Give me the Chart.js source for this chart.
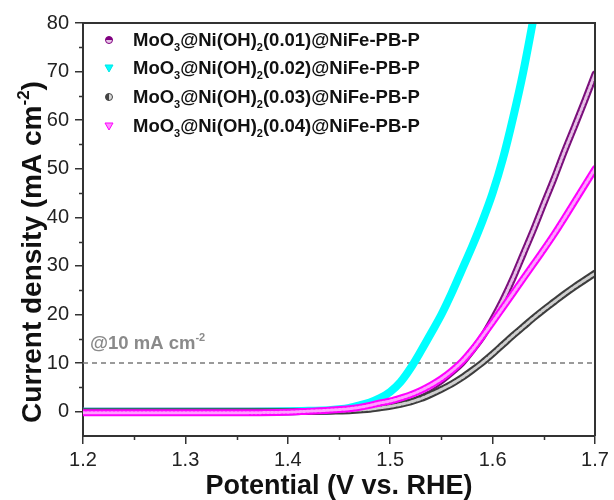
<!DOCTYPE html>
<html>
<head>
<meta charset="utf-8">
<title>LSV curves</title>
<script src="https://cdn.jsdelivr.net/npm/chart.js"></script>
<style>
  html, body { margin: 0; padding: 0; background: #fff; }
  #wrap { width: 614px; height: 500px; }
</style>
</head>
<body>
<div id="wrap"><canvas id="lsv" width="614" height="500"></canvas></div>
<script>
    // Potential (V vs. RHE) shared by all four curves
    const potential = [1.20, 1.25, 1.30, 1.35, 1.40, 1.42, 1.44,
        1.45, 1.46, 1.47, 1.48, 1.49, 1.50, 1.51, 1.52, 1.53, 1.54,
        1.55, 1.56, 1.57, 1.58, 1.59, 1.60, 1.61, 1.62, 1.63, 1.64,
        1.65, 1.66, 1.67, 1.68, 1.69, 1.70];

    // Current density (mA cm-2) for each loading
    const j001 = [0.1, 0.1, 0.1, 0.1, 0.1, 0.15, 0.2,
        0.3, 0.4, 0.6, 0.9, 1.3, 1.7, 2.3, 3.0, 3.9, 5.0,
        6.4, 8.1, 10.0, 12.6, 15.4, 19.0, 23.0, 27.5, 32.5, 37.5,
        42.8, 48.0, 53.5, 58.7, 64.0, 69.5];
    const j002 = [0.0, 0.0, 0.0, 0.0, 0.1, 0.2, 0.3,
        0.5, 0.8, 1.3, 1.9, 2.8, 4.1, 6.1, 9.0, 12.5, 16.2,
        20.0, 24.4, 29.2, 34.0, 39.2, 45.0, 52.0, 60.5, 70.0, 81.0,
        null, null, null, null, null, null];
    const j003 = [0.0, 0.0, 0.0, 0.0, 0.0, 0.05, 0.1,
        0.15, 0.2, 0.35, 0.5, 0.8, 1.1, 1.5, 2.0, 2.7, 3.6,
        4.6, 5.7, 7.0, 8.5, 10.1, 11.9, 13.8, 15.7, 17.5, 19.3,
        21.0, 22.6, 24.2, 25.7, 27.1, 28.5];
    const j004 = [-0.2, -0.2, -0.2, -0.2, -0.1, 0.1, 0.3,
        0.45, 0.6, 0.9, 1.3, 1.8, 2.2, 2.8, 3.5, 4.4, 5.5,
        6.8, 8.4, 10.3, 12.7, 15.5, 18.4, 21.4, 24.4, 27.4, 30.4,
        33.4, 36.5, 39.8, 43.2, 46.6, 50.0];

    const loadings = ['0.01', '0.02', '0.03', '0.04'];
    const refCurrent = 10;   // mA cm-2 benchmark line

    const xTicks = [1.2, 1.3, 1.4, 1.5, 1.6, 1.7];
    const yTicks = [0, 10, 20, 30, 40, 50, 60, 70, 80];

    function pts(values) {
        return potential
            .map((v, i) => ({ x: v, y: values[i] }))
            .filter(p => p.y !== null);
    }

    // one curve = a thick outer stroke plus an optional lighter dashed core
    function band(values, label, outer, inner, width, order, dash) {
        const common = {
            label: label,
            data: pts(values),
            pointRadius: 0,
            cubicInterpolationMode: 'monotone',
            borderCapStyle: 'round',
            borderJoinStyle: 'round',
            fill: false
        };
        const sets = [Object.assign({}, common, {
            borderColor: outer, borderWidth: width, order: order + 1
        })];
        if (inner) {
            sets.push(Object.assign({}, common, {
                borderColor: inner, borderWidth: width - 4, borderDash: dash, order: order
            }));
        }
        return sets;
    }

    const axisColor = '#333333';
    const fontFamily = '"Liberation Sans", Arial, sans-serif';

    // text with sub/superscripts, parts = [text, 'sub'|'sup'|null]
    function richText(ctx, parts, x, y, size, weight, color) {
        ctx.save();
        ctx.fillStyle = color;
        ctx.textBaseline = 'alphabetic';
        ctx.textAlign = 'left';
        let cx = x;
        parts.forEach(([t, kind]) => {
            const s = kind ? Math.round(size * 0.62) : size;
            ctx.font = `${weight} ${s}px ${fontFamily}`;
            const dy = kind === 'sub' ? size * 0.28 : kind === 'sup' ? -size * 0.42 : 0;
            ctx.fillText(t, cx, y + dy);
            cx += ctx.measureText(t).width;
        });
        ctx.restore();
        return cx - x;
    }

    function richWidth(ctx, parts, size, weight) {
        let w = 0;
        parts.forEach(([t, kind]) => {
            const s = kind ? Math.round(size * 0.62) : size;
            ctx.font = `${weight} ${s}px ${fontFamily}`;
            w += ctx.measureText(t).width;
        });
        return w;
    }

    function halfCircle(ctx, x, y, r, dark, light, vertical) {
        ctx.save();
        ctx.beginPath();
        ctx.arc(x, y, r, 0, Math.PI * 2);
        ctx.fillStyle = light;
        ctx.fill();
        ctx.beginPath();
        if (vertical) ctx.arc(x, y, r, Math.PI / 2, Math.PI * 1.5);
        else ctx.arc(x, y, r, Math.PI, Math.PI * 2);
        ctx.closePath();
        ctx.fillStyle = dark;
        ctx.fill();
        ctx.beginPath();
        ctx.arc(x, y, r, 0, Math.PI * 2);
        ctx.strokeStyle = dark;
        ctx.lineWidth = 1;
        ctx.stroke();
        ctx.restore();
    }

    function downTriangle(ctx, x, y, r, stroke, fillColor) {
        ctx.save();
        ctx.beginPath();
        ctx.moveTo(x - r, y - r * 0.75);
        ctx.lineTo(x + r, y - r * 0.75);
        ctx.lineTo(x, y + r);
        ctx.closePath();
        ctx.fillStyle = fillColor;
        ctx.fill();
        ctx.strokeStyle = stroke;
        ctx.lineWidth = 1;
        ctx.stroke();
        ctx.restore();
    }

    const decorations = {
        id: 'decorations',
        beforeDatasetsDraw(chart) {
            const { ctx, chartArea: a, scales: { y } } = chart;
            // dashed 10 mA cm-2 reference line
            const yy = y.getPixelForValue(refCurrent);
            ctx.save();
            ctx.strokeStyle = '#7a7a7a';
            ctx.lineWidth = 1.5;
            ctx.setLineDash([5, 4]);
            ctx.beginPath();
            ctx.moveTo(a.left, yy);
            ctx.lineTo(a.right, yy);
            ctx.stroke();
            ctx.restore();
            richText(ctx, [['@10 mA cm', null], ['-2', 'sup']], a.left + 7, yy - 14, 18.5, 'bold', '#8a8a8a');
        },
        afterDraw(chart) {
            const { ctx, chartArea: a, scales: { x, y } } = chart;
            ctx.save();
            // top and right frame
            ctx.strokeStyle = axisColor;
            ctx.lineWidth = 2;
            ctx.beginPath();
            ctx.moveTo(a.left, a.top);
            ctx.lineTo(a.right, a.top);
            ctx.lineTo(a.right, a.bottom);
            ctx.stroke();
            // minor ticks, outward
            ctx.lineWidth = 1.5;
            ctx.beginPath();
            for (let v = 5; v < 80; v += 10) {
                const py = Math.round(y.getPixelForValue(v)) + 0.5;
                ctx.moveTo(a.left, py);
                ctx.lineTo(a.left - 4, py);
            }
            for (let v = 1.25; v < 1.7; v += 0.1) {
                const px = Math.round(x.getPixelForValue(v)) + 0.5;
                ctx.moveTo(px, a.bottom);
                ctx.lineTo(px, a.bottom + 4);
            }
            ctx.stroke();
            ctx.restore();

            // axis titles
            const xt = [['Potential (V vs. RHE)', null]];
            const xw = richWidth(ctx, xt, 27, 'bold');
            richText(ctx, xt, (a.left + a.right) / 2 - xw / 2, 494, 27, 'bold', '#111');

            const yt = [['Current density (mA cm', null], ['-2', 'sup'], [')', null]];
            const yw = richWidth(ctx, yt, 28, 'bold');
            ctx.save();
            ctx.translate(41, 252);
            ctx.rotate(-Math.PI / 2);
            richText(ctx, yt, -yw / 2, 0, 28, 'bold', '#111');
            ctx.restore();

            // legend
            const rowY = [40, 68, 97, 126];
            const marks = [
                c => halfCircle(c, 109, rowY[0], 3.5, '#800080', '#e6c6e6', false),
                c => downTriangle(c, 109, rowY[1], 4, '#00e5e5', '#00ffff'),
                c => halfCircle(c, 109, rowY[2], 3.5, '#444444', '#d8d8d8', true),
                c => downTriangle(c, 109, rowY[3], 4, '#ff00ff', '#ff8cff')
            ];
            marks.forEach((mark, i) => {
                mark(ctx);
                richText(ctx, [
                    ['MoO', null], ['3', 'sub'], ['@Ni(OH)', null], ['2', 'sub'],
                    ['(' + loadings[i] + ')@NiFe-PB-P', null]
                ], 133, rowY[i] + 6, 18.5, 'bold', '#111');
            });
        }
    };

    const datasets = [].concat(
        band(j001, loadings[0], '#7b0f7b', '#e6bfe6', 7, 5, [2, 2]),
        band(j002, loadings[1], '#00ffff', null, 8, 4),
        band(j003, loadings[2], '#3d3d3d', '#cfcfcf', 7, 2, [3, 2]),
        band(j004, loadings[3], '#ff00ff', '#ffa0ff', 7, 0, [2, 2])
    );

    new Chart(document.getElementById('lsv'), {
        type: 'line',
        data: { datasets: datasets },
        options: {
            responsive: false,
            animation: false,
            devicePixelRatio: 1,
            layout: { padding: { top: 23, right: 19, left: 0, bottom: 0 } },
            plugins: { legend: { display: false }, tooltip: { enabled: false } },
            scales: {
                x: {
                    type: 'linear',
                    min: 1.2,
                    max: 1.7,
                    afterFit: s => { s.height = 64; },
                    afterBuildTicks: s => { s.ticks = xTicks.map(v => ({ value: v })); },
                    ticks: {
                        color: '#222',
                        padding: 4,
                        font: { size: 20, family: fontFamily },
                        callback: v => v.toFixed(1)
                    },
                    grid: { drawOnChartArea: false, tickLength: 8, color: axisColor, lineWidth: 1.5 },
                    border: { color: axisColor, width: 2 }
                },
                y: {
                    type: 'linear',
                    min: -5,
                    max: 80,
                    afterFit: s => { s.width = 83; },
                    afterBuildTicks: s => { s.ticks = yTicks.map(v => ({ value: v })); },
                    ticks: {
                        color: '#222',
                        padding: 6,
                        font: { size: 20, family: fontFamily }
                    },
                    grid: { drawOnChartArea: false, tickLength: 8, color: axisColor, lineWidth: 1.5 },
                    border: { color: axisColor, width: 2 }
                }
            }
        },
        plugins: [decorations]
    });
</script>
</body>
</html>
